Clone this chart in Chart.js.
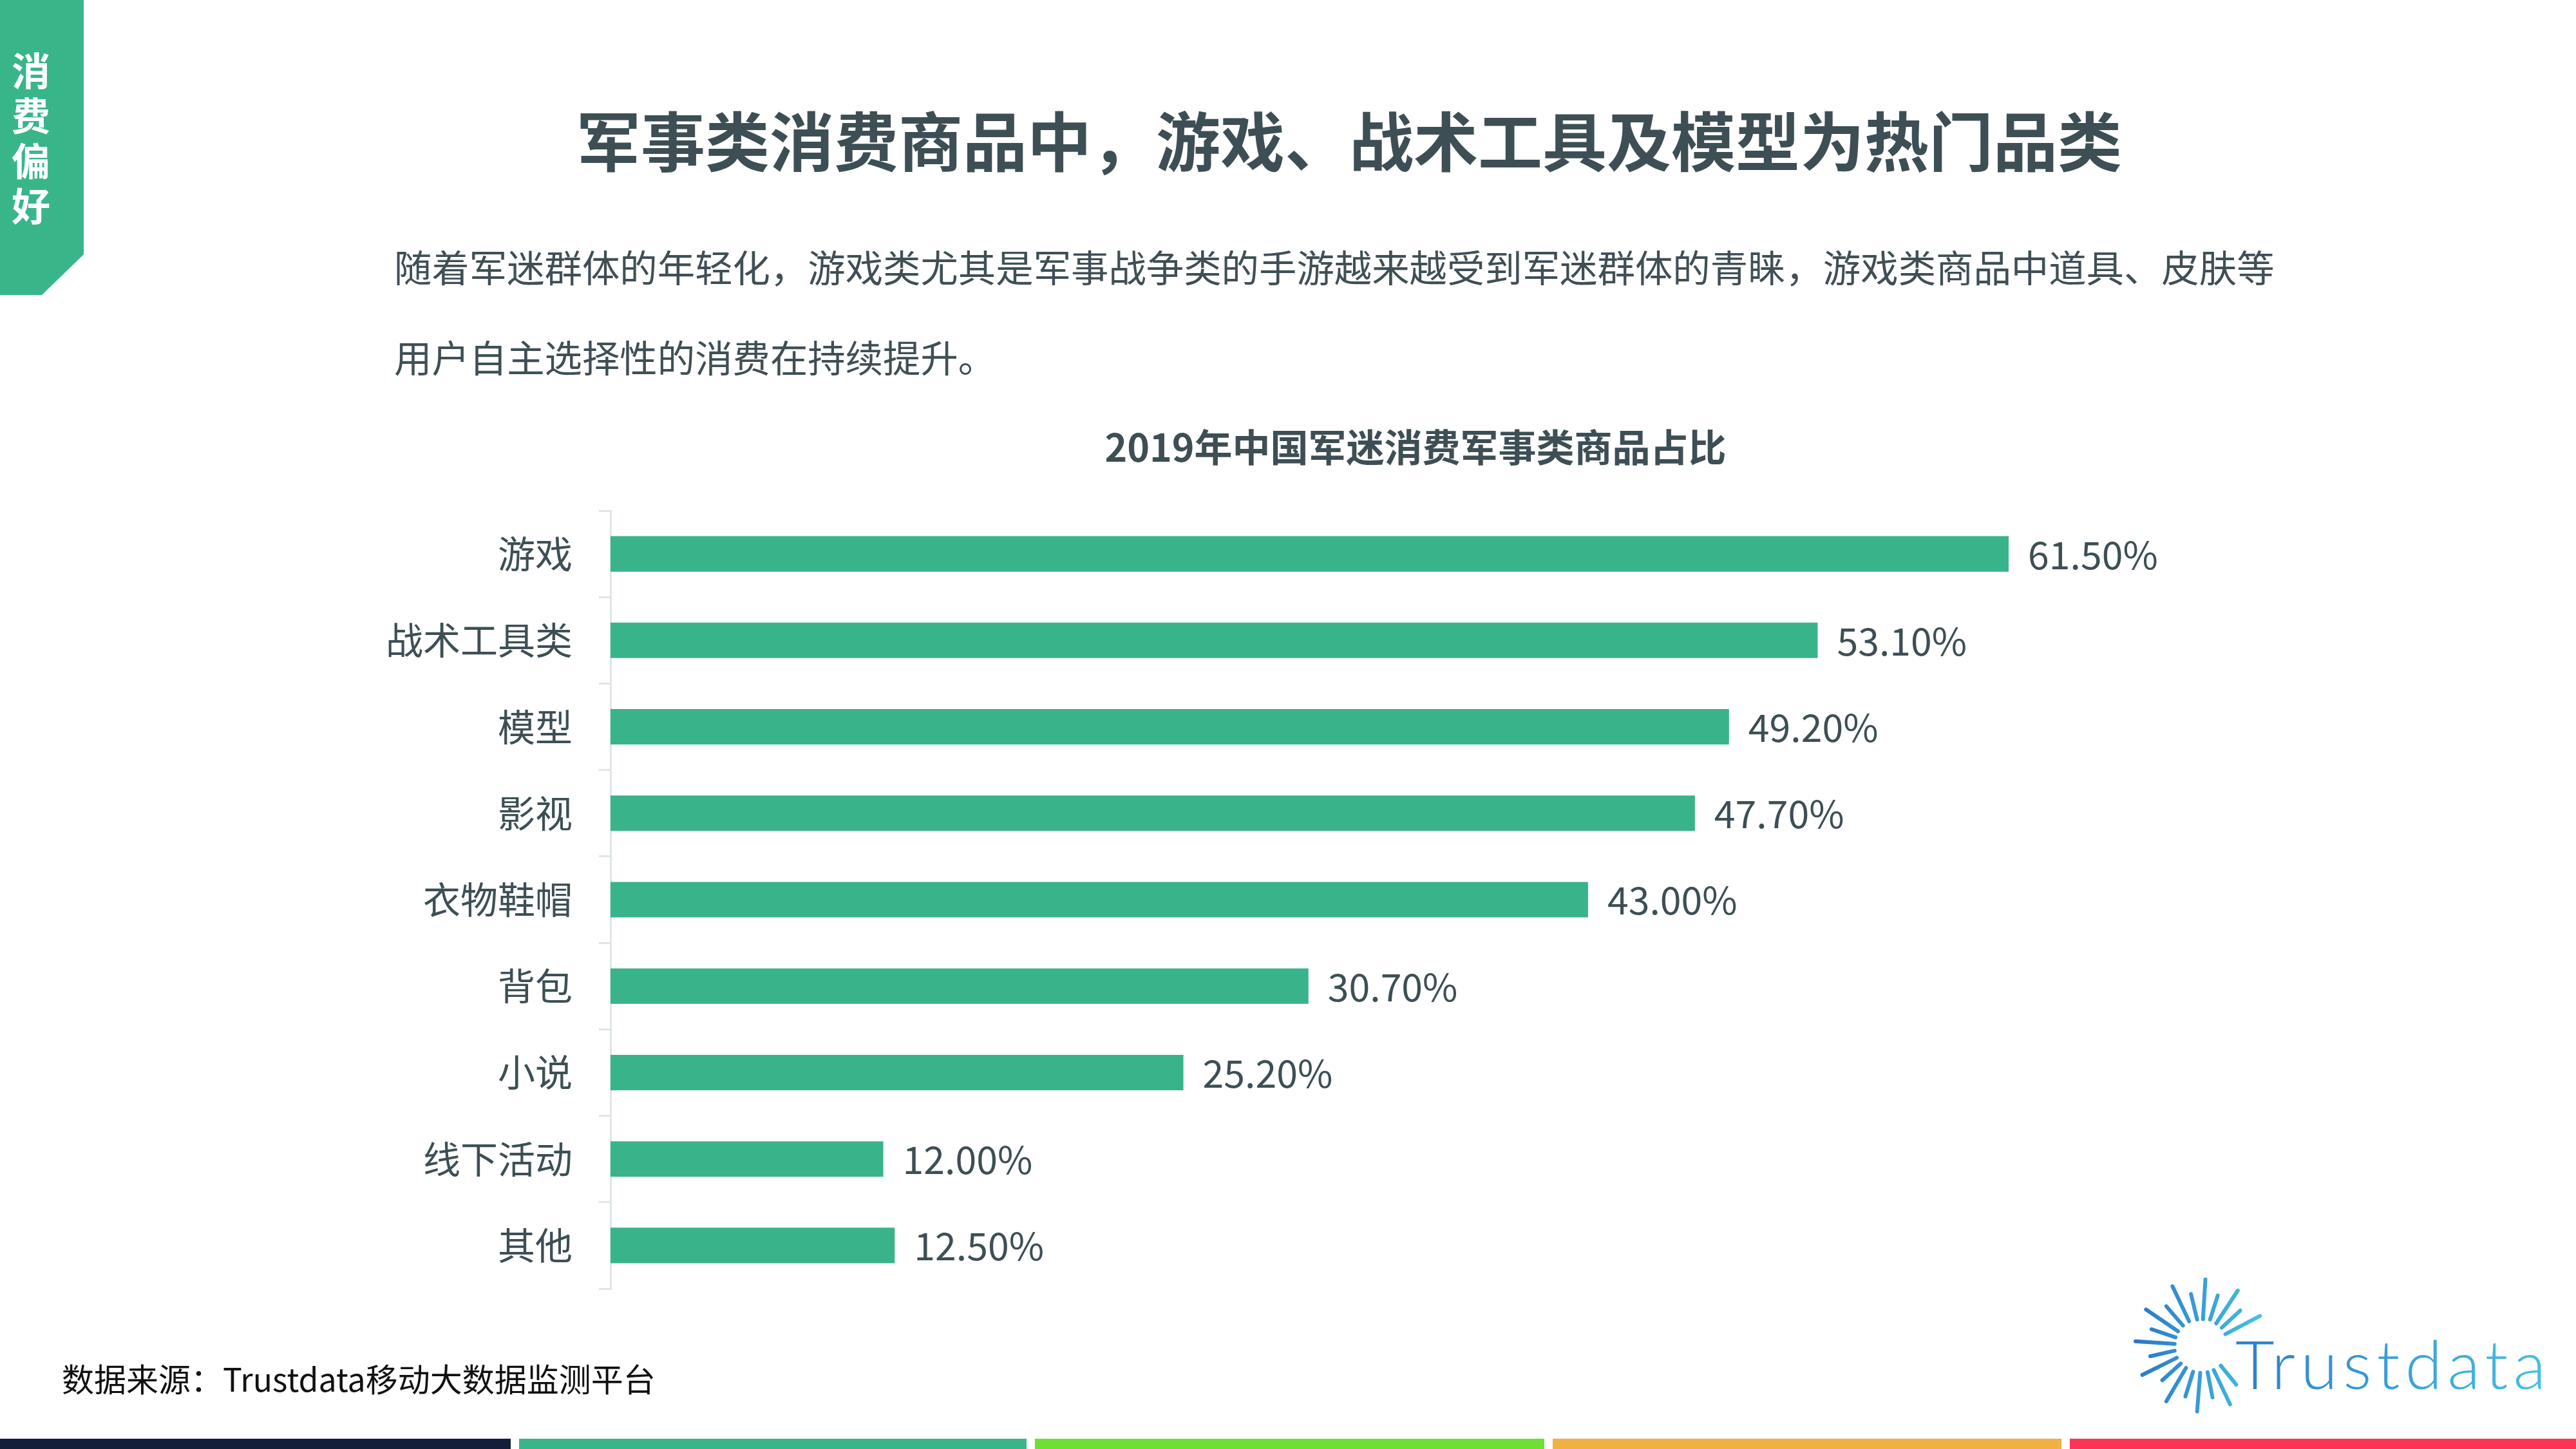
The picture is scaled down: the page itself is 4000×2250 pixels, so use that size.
<!DOCTYPE html>
<html>
<head>
<meta charset="utf-8">
<script src="https://cdn.jsdelivr.net/npm/chart.js@4/dist/chart.umd.min.js"></script>
<style>
  html, body { margin:0; padding:0; background:#fff; }
  body { width:4000px; height:2250px; position:relative; overflow:hidden; font-family:"Noto Sans CJK SC","Noto Sans",sans-serif; }
  .abs { position:absolute; white-space:nowrap; }
  #tab { left:0; top:0; width:130px; height:458px; background:#38b68a;
         clip-path: polygon(0 0,130px 0,130px 395px,65px 458px,0 458px); }
  #tabtext { left:18px; top:72px; width:60px; font-size:60px; line-height:70px; font-weight:700; color:#fff; white-space:normal; text-align:center; }
  #title { left:895px; top:165px; font-size:100px; line-height:100px; font-weight:700; color:#3d4f55; }
  #sub { left:612px; top:343px; font-size:58.4px; line-height:140px; color:#3f4f55; }
  #ctitle { left:2198px; top:662px; transform:translateX(-50%); font-size:59px; line-height:59px; font-weight:700; color:#3d4f55; }
  #source { left:96px; top:2114px; font-size:50px; line-height:50px; color:#111; }
  #chart { position:absolute; left:0; top:700px; }
  .seg { position:absolute; top:2234px; height:16px; }
  #logotext { left:3471px; top:2064px; font-family:Lato,"Open Sans",sans-serif; font-weight:300; font-size:105px; line-height:105px; letter-spacing:8px;
              background:linear-gradient(90deg,#2f7fcc,#45c0e2); -webkit-background-clip:text; background-clip:text; color:transparent; }
  #sun { position:absolute; left:3250px; top:1950px; }
</style>
</head>
<body>
<div id="tab" class="abs"></div>
<div id="tabtext" class="abs">消<br>费<br>偏<br>好</div>
<div id="title" class="abs">军事类消费商品中，游戏、战术工具及模型为热门品类</div>
<div id="sub" class="abs">随着军迷群体的年轻化，游戏类尤其是军事战争类的手游越来越受到军迷群体的青睐，游戏类商品中道具、皮肤等<br>用户自主选择性的消费在持续提升。</div>
<div id="ctitle" class="abs">2019年中国军迷消费军事类商品占比</div>
<canvas id="chart" width="3700" height="1400" style="width:3700px;height:1400px;"></canvas>
<div id="source" class="abs">数据来源：Trustdata移动大数据监测平台</div>

<svg id="sun" width="750" height="300" viewBox="0 0 1568 900" preserveAspectRatio="none">
  <defs>
    <linearGradient id="g" gradientUnits="userSpaceOnUse" x1="130" y1="0" x2="550" y2="0">
      <stop offset="0" stop-color="#2a76c6"/>
      <stop offset="1" stop-color="#46c2e2"/>
    </linearGradient>
  </defs>
  <g stroke="url(#g)" stroke-width="6" stroke-linecap="round" fill="none">
    <line x1="365" y1="110" x2="357" y2="295" vector-effect="non-scaling-stroke"/>
    <line x1="258" y1="142" x2="312" y2="305" vector-effect="non-scaling-stroke"/>
    <line x1="318" y1="178" x2="338" y2="297" vector-effect="non-scaling-stroke"/>
    <line x1="405" y1="185" x2="380" y2="297" vector-effect="non-scaling-stroke"/>
    <line x1="470" y1="162" x2="400" y2="315" vector-effect="non-scaling-stroke"/>
    <line x1="478" y1="255" x2="418" y2="335" vector-effect="non-scaling-stroke"/>
    <line x1="542" y1="280" x2="430" y2="365" vector-effect="non-scaling-stroke"/>
    <line x1="172" y1="250" x2="276" y2="352" vector-effect="non-scaling-stroke"/>
    <line x1="238" y1="235" x2="292" y2="325" vector-effect="non-scaling-stroke"/>
    <line x1="190" y1="342" x2="268" y2="380" vector-effect="non-scaling-stroke"/>
    <line x1="138" y1="398" x2="265" y2="410" vector-effect="non-scaling-stroke"/>
    <line x1="186" y1="468" x2="265" y2="442" vector-effect="non-scaling-stroke"/>
    <line x1="160" y1="555" x2="272" y2="475" vector-effect="non-scaling-stroke"/>
    <line x1="225" y1="580" x2="285" y2="502" vector-effect="non-scaling-stroke"/>
    <line x1="238" y1="678" x2="302" y2="522" vector-effect="non-scaling-stroke"/>
    <line x1="300" y1="655" x2="325" y2="540" vector-effect="non-scaling-stroke"/>
    <line x1="338" y1="725" x2="348" y2="545" vector-effect="non-scaling-stroke"/>
    <line x1="388" y1="660" x2="372" y2="542" vector-effect="non-scaling-stroke"/>
    <line x1="445" y1="692" x2="392" y2="532" vector-effect="non-scaling-stroke"/>
    <line x1="465" y1="600" x2="415" y2="512" vector-effect="non-scaling-stroke"/>
  </g>
</svg>
<div id="logotext" class="abs">Trustdata</div>

<div class="seg" style="left:0;width:793px;background:#131f38;"></div>
<div class="seg" style="left:806px;width:788px;background:#38b68a;"></div>
<div class="seg" style="left:1607px;width:791px;background:#6de033;"></div>
<div class="seg" style="left:2411px;width:790px;background:#f0b042;"></div>
<div class="seg" style="left:3214px;width:786px;background:#fd3456;"></div>

<script>
const categories = ["游戏", "战术工具类", "模型", "影视", "衣物鞋帽", "背包", "小说", "线下活动", "其他"];
const shares = [61.5, 53.1, 49.2, 47.7, 43.0, 30.7, 25.2, 12.0, 12.5];
const xMin = 0;
const xMax = 69.8;

const FONT = '"Noto Sans CJK SC","Noto Sans",sans-serif';
const TEXT = '#3d4f55';
const BAR = '#39b38a';
const AXIS = '#dfe7e6';

const valueLabels = {
  id: 'valueLabels',
  afterDatasetsDraw(chart) {
    const ctx = chart.ctx;
    const meta = chart.getDatasetMeta(0);
    ctx.save();
    ctx.font = '59px ' + FONT;
    ctx.fillStyle = TEXT;
    ctx.textAlign = 'left';
    ctx.textBaseline = 'middle';
    meta.data.forEach((bar, i) => {
      ctx.fillText(shares[i].toFixed(2) + '%', bar.x + 30, bar.y + 1);
    });
    ctx.restore();
  }
};

new Chart(document.getElementById('chart'), {
  type: 'bar',
  data: {
    labels: categories,
    datasets: [{
      data: shares,
      backgroundColor: BAR,
      borderWidth: 0,
      barPercentage: 0.41,
      categoryPercentage: 1.0
    }]
  },
  options: {
    indexAxis: 'y',
    responsive: false,
    devicePixelRatio: 1,
    animation: false,
    layout: { padding: { left: 0, right: 288, top: 93, bottom: 99 } },
    plugins: { legend: { display: false }, tooltip: { enabled: false }, title: { display: false } },
    scales: {
      x: { min: xMin, max: xMax, display: false },
      y: {
        grid: { display: true, drawOnChartArea: false, drawTicks: true, tickLength: 18, offset: true, color: AXIS, lineWidth: 3 },
        border: { display: true, color: AXIS, width: 3 },
        ticks: { padding: 41, color: TEXT, font: { family: FONT, size: 58 } },
        afterFit(scale) { scale.width = 948; }
      }
    }
  },
  plugins: [valueLabels]
});
</script>
</body>
</html>
